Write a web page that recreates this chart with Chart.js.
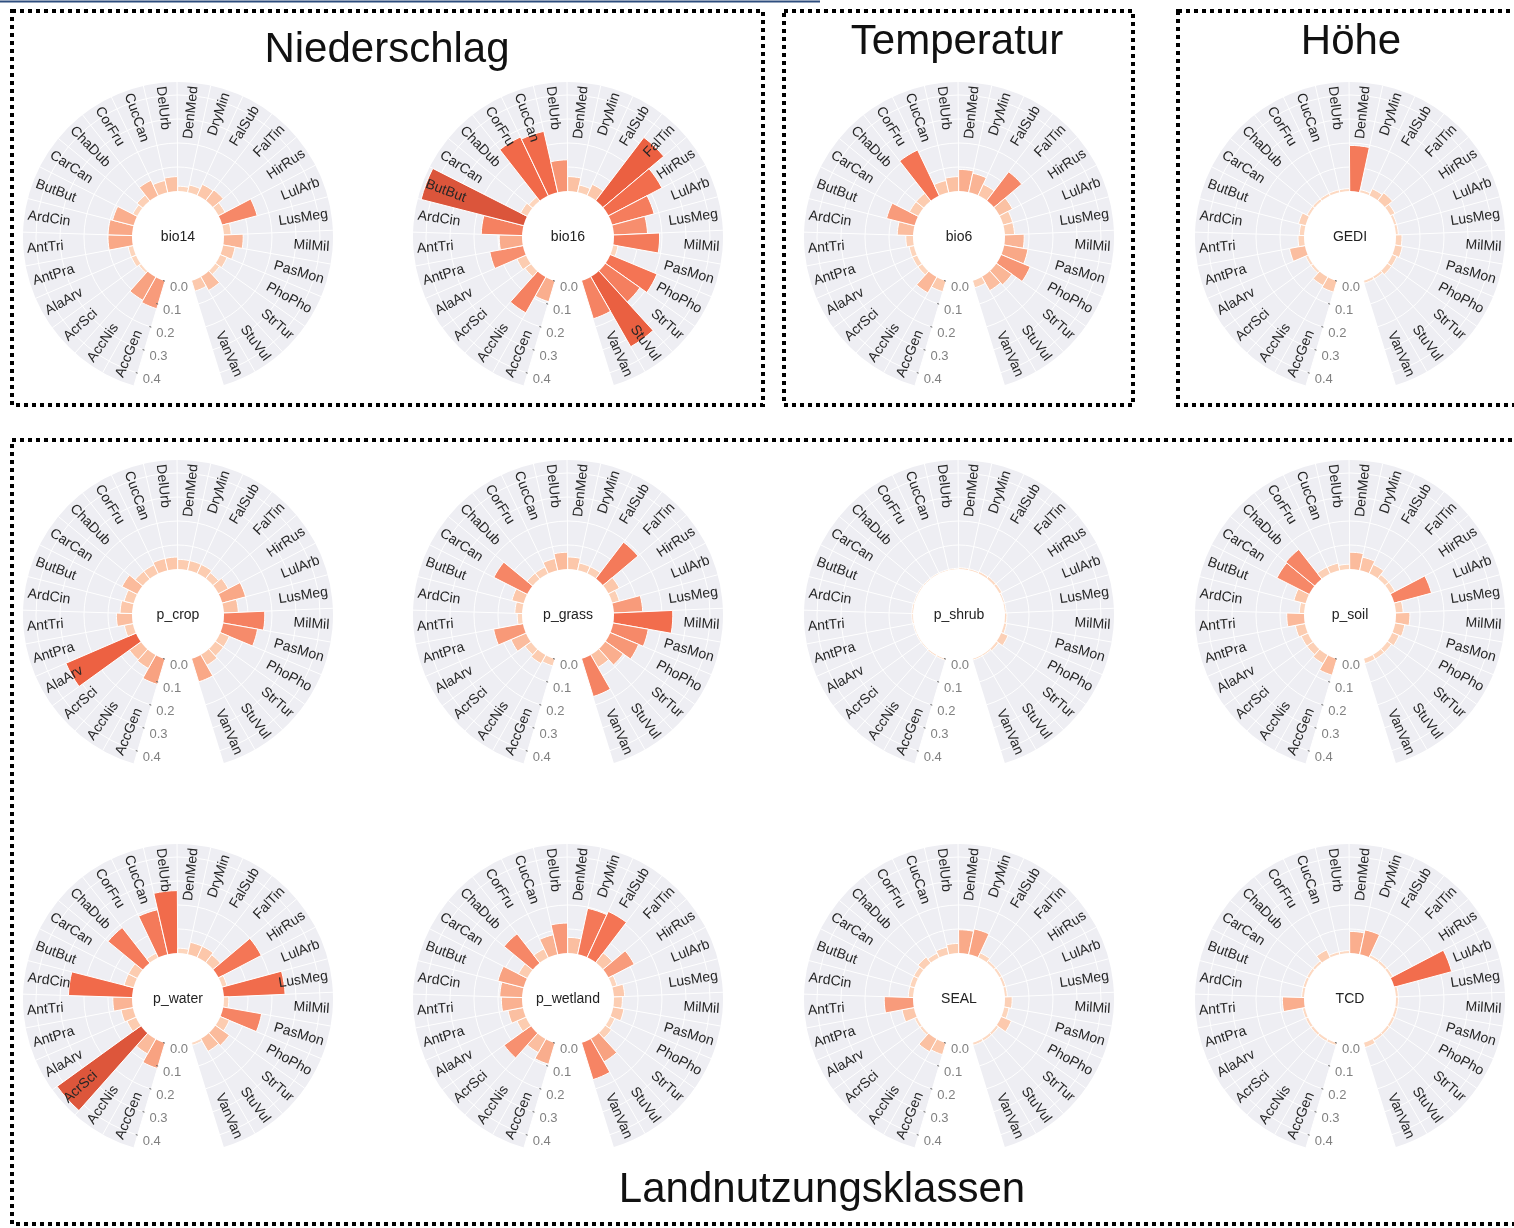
<!DOCTYPE html>
<html>
<head>
<meta charset="utf-8">
<script src="https://cdn.jsdelivr.net/npm/chart.js@4.4.1/dist/chart.umd.min.js"></script>
<style>
  body { margin: 0; width: 1514px; height: 1228px; position: relative; overflow: hidden; background: #fff;
         font-family: "Liberation Sans", Arial, sans-serif; }
  #frame { position: absolute; left: 0; top: 0; }
  .panel { position: absolute; width: 330px; height: 330px; }
  .title { position: absolute; font-size: 42px; line-height: 42px; color: #111; white-space: nowrap; transform: translateX(-50%); }
</style>
</head>
<body>
<canvas id="frame" width="1514" height="1228"></canvas>
<div class="title" style="left:387px;top:27px">Niederschlag</div>
<div class="title" style="left:957px;top:19px">Temperatur</div>
<div class="title" style="left:1351px;top:19px">Höhe</div>
<div class="title" style="left:822px;top:1167px">Landnutzungsklassen</div>

<script>
// species around the circle, clockwise from the radial axis
const species = ["AccGen", "AccNis", "AcrSci", "AlaArv", "AntPra", "AntTri", "ArdCin", "ButBut", "CarCan",
  "ChaDub", "CorFru", "CucCan", "DelUrb", "DenMed", "DryMin", "FalSub", "FalTin", "HirRus", "LulArb",
  "LusMeg", "MilMil", "PasMon", "PhoPho", "StrTur", "StuVul", "VanVan"];
const tickValues = [0, 0.1, 0.2, 0.3, 0.4];
const tickLabels = ["0.0", "0.1", "0.2", "0.3", "0.4"];

// one series per variable
const bio14 = [0.12, 0.11, 0.01, 0.02, 0.02, 0.10, 0.10, 0.09, 0.02, 0.03, 0.07, 0.05, 0.06,
  0.02, 0.03, 0.05, 0.055, 0.03, 0.15, 0.03, 0.08, 0.05, 0.03, 0.02, 0.065, 0.045];
const bio16 = [0.09, 0.17, 0.03, 0.04, 0.14, 0.095, 0.17, 0.44, 0.03, 0.02, 0.27, 0.26, 0.13,
  0.06, 0.03, 0.05, 0.33, 0.25, 0.18, 0.14, 0.19, 0.02, 0.21, 0.175, 0.335, 0.165];
const bio6 = [0.046, 0.075, 0.02, 0.02, 0.02, 0.03, 0.066, 0.12, 0.04, 0.04, 0.21, 0.05, 0.06,
  0.09, 0.08, 0.05, 0.15, 0.06, 0.04, 0.04, 0.08, 0.10, 0.13, 0.078, 0.066, 0.03];
const gedi = [0.048, 0.04, 0.01, 0.01, 0.065, 0.025, 0.02, 0.03, 0.01, 0.01, 0.01, 0.01, 0.01,
  0.19, 0.01, 0.03, 0.04, 0.02, 0.01, 0.01, 0.025, 0.03, 0.02, 0.02, 0.01, 0.01];
const pCrop = [0.11, 0.063, 0.058, 0.317, 0.036, 0.065, 0.05, 0.04, 0.07, 0.04, 0.04, 0.05, 0.05,
  0.04, 0.04, 0.04, 0.03, 0.045, 0.10, 0.06, 0.17, 0.145, 0.04, 0.04, 0.05, 0.10];
const pGrass = [0.03, 0.04, 0.03, 0.067, 0.124, 0.02, 0.03, 0.05, 0.155, 0.03, 0.03, 0.05, 0.07,
  0.05, 0.03, 0.03, 0.19, 0.05, 0.03, 0.12, 0.245, 0.148, 0.127, 0.09, 0.06, 0.164];
const pShrub = [0.005, 0.005, 0.003, 0.003, 0.003, 0.005, 0.005, 0.003, 0.003, 0.003, 0.003, 0.003, 0.003,
  0.005, 0.005, 0.008, 0.01, 0.01, 0.005, 0.005, 0.008, 0.01, 0.03, 0.01, 0.005, 0.005];
const pSoil = [0.07, 0.04, 0.03, 0.03, 0.04, 0.072, 0.02, 0.05, 0.15, 0.155, 0.03, 0.03, 0.02,
  0.07, 0.055, 0.04, 0.02, 0.02, 0.16, 0.03, 0.058, 0.04, 0.03, 0.02, 0.02, 0.02];
const pWater = [0.11, 0.07, 0.43, 0.04, 0.05, 0.08, 0.265, 0.04, 0.04, 0.186, 0.02, 0.19, 0.26,
  0.02, 0.05, 0.05, 0.04, 0.20, 0.02, 0.255, 0.02, 0.162, 0.04, 0.07, 0.06, 0.01];
const pWetland = [0.092, 0.064, 0.137, 0.04, 0.063, 0.086, 0.093, 0.11, 0.04, 0.153, 0.04, 0.083, 0.125,
  0.065, 0.195, 0.21, 0.05, 0.12, 0.02, 0.045, 0.035, 0.045, 0.02, 0.03, 0.11, 0.16];
const seal = [0.05, 0.06, 0.01, 0.01, 0.05, 0.12, 0.02, 0.02, 0.02, 0.03, 0.02, 0.03, 0.04,
  0.097, 0.107, 0.02, 0.01, 0.01, 0.01, 0.01, 0.03, 0.02, 0.045, 0.01, 0.01, 0.01];
const tcd = [0.01, 0.01, 0.01, 0.01, 0.01, 0.09, 0.01, 0.01, 0.01, 0.01, 0.035, 0.01, 0.01,
  0.09, 0.103, 0.01, 0.01, 0.01, 0.247, 0.01, 0.01, 0.01, 0.01, 0.01, 0.01, 0.02];

const panelNames = ["bio14", "bio16", "bio6", "GEDI", "p_crop", "p_grass", "p_shrub", "p_soil",
  "p_water", "p_wetland", "SEAL", "TCD"];
const panelSeries = [bio14, bio16, bio6, gedi, pCrop, pGrass, pShrub, pSoil, pWater, pWetland, seal, tcd];

// layout (page pixels)
const colX = [178, 568, 959, 1350];
const rowY = [237, 615, 999];
const HALF = 165;             // half canvas size
const R_MIN = -0.1917, R_MAX = 0.4542;
const START = 196.5, SLOT = 12.55;
const LABEL_R = 0.44;
const PANEL_BG = "#eeeef3";

// colour ramp for the bars (value -> colour)
const ramp = [[0, [253, 222, 200]], [0.05, [252, 199, 170]], [0.10, [249, 168, 135]], [0.15, [246, 136, 104]],
  [0.20, [244, 118, 86]], [0.30, [239, 99, 67]], [0.45, [218, 84, 58]]];
function barColor(v) {
  for (let i = 1; i < ramp.length; i++) {
    if (v <= ramp[i][0] || i === ramp.length - 1) {
      const [v0, c0] = ramp[i - 1], [v1, c1] = ramp[i];
      const t = Math.max(0, Math.min(1, (v - v0) / (v1 - v0)));
      return "rgb(" + c0.map((c, k) => Math.round(c + (c1[k] - c) * t)).join(",") + ")";
    }
  }
}

// frame: dotted boxes + the thin line at the very top
const fctx = document.getElementById("frame").getContext("2d");
fctx.strokeStyle = "#2f4f7f";
fctx.lineWidth = 2;
fctx.beginPath(); fctx.moveTo(0, 1.5); fctx.lineTo(820, 1.5); fctx.stroke();
fctx.strokeStyle = "#000";
fctx.lineWidth = 4;
fctx.setLineDash([4, 4]);
[[12, 11, 751, 394], [784, 11, 349, 394], [1178, 11, 400, 394], [12, 440, 1560, 784]].forEach(b => {
  fctx.strokeRect(b[0], b[1], b[2], b[3]);
});

const decor = {
  id: "decor",
  beforeDraw(chart) {
    const s = chart.scales.r, ctx = chart.ctx;
    const arcs = chart.getDatasetMeta(0).data;
    const a0 = arcs[0].startAngle, a1 = arcs[arcs.length - 1].endAngle;
    ctx.save();
    ctx.fillStyle = PANEL_BG;
    ctx.beginPath();
    ctx.moveTo(s.xCenter, s.yCenter);
    ctx.arc(s.xCenter, s.yCenter, s.drawingArea, a0, a1);
    ctx.closePath();
    ctx.fill();
    ctx.restore();
  },
  beforeDatasetsDraw(chart) {
    // white spokes on the slot borders
    const s = chart.scales.r, ctx = chart.ctx;
    const arcs = chart.getDatasetMeta(0).data;
    const r0 = s.getDistanceFromCenterForValue(0);
    ctx.save();
    ctx.strokeStyle = "#fff";
    ctx.lineWidth = 1;
    arcs.forEach(a => {
      const ang = a.startAngle;
      ctx.beginPath();
      ctx.moveTo(s.xCenter + r0 * Math.cos(ang), s.yCenter + r0 * Math.sin(ang));
      ctx.lineTo(s.xCenter + s.drawingArea * Math.cos(ang), s.yCenter + s.drawingArea * Math.sin(ang));
      ctx.stroke();
    });
    ctx.restore();
  },
  afterDatasetsDraw(chart) {
    const s = chart.scales.r, ctx = chart.ctx;
    const cx = s.xCenter, cy = s.yCenter;
    const arcs = chart.getDatasetMeta(0).data;
    const r0 = s.getDistanceFromCenterForValue(0);
    ctx.save();
    // hole
    ctx.fillStyle = "#fff";
    ctx.beginPath(); ctx.arc(cx, cy, r0, 0, Math.PI * 2); ctx.fill();
    // panel name
    ctx.fillStyle = "#222";
    ctx.font = '14px "Liberation Sans", Arial, sans-serif';
    ctx.textAlign = "center"; ctx.textBaseline = "middle";
    ctx.fillText(chart.options.plugins.decor.name, cx, cy);
    // species labels, rotated along the radius
    const rl = s.getDistanceFromCenterForValue(LABEL_R);
    ctx.fillStyle = "#262626";
    arcs.forEach((a, i) => {
      const ang = (a.startAngle + a.endAngle) / 2;
      const right = Math.cos(ang) >= 0;
      ctx.save();
      ctx.translate(cx + rl * Math.cos(ang), cy + rl * Math.sin(ang));
      ctx.rotate(right ? ang : ang + Math.PI);
      ctx.textAlign = right ? "right" : "left";
      ctx.fillText(chart.data.labels[i], 0, 0);
      ctx.restore();
    });
    // radial axis ticks along the sector start
    const a0 = arcs[0].startAngle;
    ctx.font = '13px "Liberation Sans", Arial, sans-serif';
    ctx.textAlign = "left";
    tickValues.forEach((v, i) => {
      const d = s.getDistanceFromCenterForValue(v);
      const x = cx + d * Math.cos(a0), y = cy + d * Math.sin(a0);
      ctx.strokeStyle = "#666"; ctx.lineWidth = 1;
      ctx.beginPath(); ctx.moveTo(x, y); ctx.lineTo(x + 2 * Math.sin(a0 + Math.PI), y - 2 * Math.cos(a0 + Math.PI)); ctx.stroke();
      ctx.fillStyle = "#808080";
      ctx.fillText(tickLabels[i], x + 5, y + 6);
    });
    ctx.restore();
  }
};

panelNames.forEach((name, p) => {
  const values = panelSeries[p];
  const cx = colX[p % 4], cy = rowY[Math.floor(p / 4)];
  const cv = document.createElement("canvas");
  cv.className = "panel";
  cv.width = 2 * HALF; cv.height = 2 * HALF;
  cv.style.left = (cx - HALF) + "px";
  cv.style.top = (cy - HALF) + "px";
  document.body.appendChild(cv);
  new Chart(cv.getContext("2d"), {
    type: "polarArea",
    data: {
      labels: species,
      datasets: [{
        data: values,
        backgroundColor: values.map(barColor),
        borderColor: "#fff",
        borderWidth: 1,
        angle: SLOT
      }]
    },
    options: {
      responsive: false,
      animation: false,
      devicePixelRatio: 1,
      layout: { padding: 10 },
      plugins: { legend: { display: false }, tooltip: { enabled: false }, decor: { name: name } },
      scales: {
        r: {
          min: R_MIN, max: R_MAX,
          startAngle: START,
          afterBuildTicks: sc => { sc.ticks = tickValues.map(v => ({ value: v })); },
          ticks: { display: false },
          grid: { color: "#fff", lineWidth: 1, circular: true },
          angleLines: { display: false },
          pointLabels: { display: false }
        }
      }
    },
    plugins: [decor]
  });
});
</script>
</body>
</html>
